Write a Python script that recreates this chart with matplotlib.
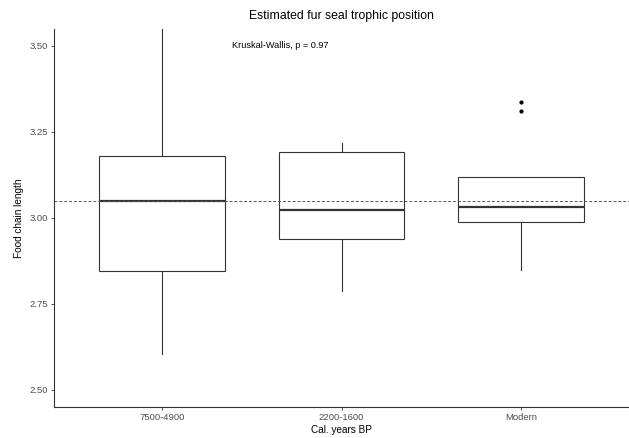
import matplotlib
matplotlib.use("Agg")
import matplotlib.pyplot as plt

# values
periods = ["7500-4900", "2200-1600", "Modern"]
whisker_low = [2.604, 2.788, 2.849]
q1 = [2.846, 2.938, 2.987]
median = [3.050, 3.023, 3.031]
q3 = [3.181, 3.192, 3.118]
whisker_high = [3.548, 3.217, 3.118]
outliers = [[], [], [3.337, 3.311]]
reference_line = 3.048
yticks = [2.50, 2.75, 3.00, 3.25, 3.50]

plt.rcParams["font.family"] = ["Liberation Sans", "DejaVu Sans"]

fig = plt.figure(figsize=(6.29, 4.38), dpi=100)
ax = fig.add_axes([54 / 629, 31 / 438, 575 / 629, 378 / 438])

stats = []
for i, name in enumerate(periods):
    stats.append({
        "label": name,
        "whislo": whisker_low[i],
        "q1": q1[i],
        "med": median[i],
        "q3": q3[i],
        "whishi": whisker_high[i],
        "fliers": outliers[i],
    })

line_col = "#333333"
ax.bxp(
    stats,
    positions=[1, 2, 3],
    widths=0.7,
    showcaps=False,
    patch_artist=True,
    boxprops=dict(facecolor="white", edgecolor=line_col, linewidth=0.8),
    whiskerprops=dict(color=line_col, linewidth=0.8),
    medianprops=dict(color=line_col, linewidth=1.6),
    flierprops=dict(marker="o", markersize=2.0, markerfacecolor="black",
                    markeredgecolor="black"),
)

ax.axhline(reference_line, color="#555555", linestyle=(0, (3, 2)),
           linewidth=0.7, zorder=3)

ax.text(1.39, 3.50, "Kruskal-Wallis, p = 0.97", fontsize=6.6,
        ha="left", va="center", color="black")

ax.set_xlim(0.4, 3.6)
ax.set_ylim(2.4506, 3.549)
ax.set_xticks([1, 2, 3])
ax.set_xticklabels(periods)
ax.set_yticks(yticks)
ax.set_yticklabels([f"{v:.2f}" for v in yticks])

for side in ["top", "right"]:
    ax.spines[side].set_visible(False)
for side in ["left", "bottom"]:
    ax.spines[side].set_color(line_col)
    ax.spines[side].set_linewidth(0.8)

ax.tick_params(axis="both", labelsize=6.8, labelcolor="#4d4d4d",
               color=line_col, length=2.5, width=0.6, pad=2)

ax.set_xlabel("Cal. years BP", fontsize=7.2, labelpad=2)
ax.set_ylabel("Food chain length", fontsize=7.2, labelpad=4)
ax.set_title("Estimated fur seal trophic position", fontsize=8.8, pad=7)

fig.savefig("out.png", dpi=100)
